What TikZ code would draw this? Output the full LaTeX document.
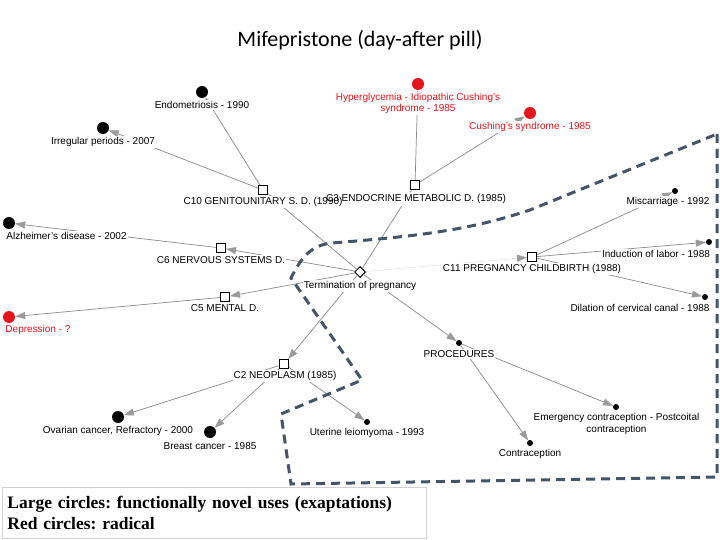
\documentclass[tikz,border=0pt]{standalone}
\usepackage{fontspec}
\setmainfont{Liberation Sans}
\newfontfamily\titlefont{Carlito}
\newfontfamily\legendfont{Liberation Serif}
\usetikzlibrary{arrows.meta,shapes.geometric}
\definecolor{edgegray}{HTML}{8A8A8A}
\definecolor{tipgray}{HTML}{9A9A9A}
\definecolor{dashblue}{HTML}{44546A}
\definecolor{dotred}{HTML}{E8141B}
\frenchspacing
\begin{document}
\begin{tikzpicture}[x=1pt,y=-1pt,
  bigdot/.style={circle,fill=black,inner sep=0pt,minimum size=12pt},
  reddot/.style={circle,fill=dotred,inner sep=0pt,minimum size=12pt},
  smalldot/.style={circle,fill=black,inner sep=0pt,minimum size=6pt},
  catbox/.style={rectangle,draw=black,fill=white,line width=1pt,inner sep=0pt,minimum size=9pt},
  hub/.style={diamond,draw=black,fill=white,line width=1pt,inner sep=0pt,minimum size=11pt},
  lbl/.style={fill=white,inner sep=1pt,font=\fontsize{10}{11}\selectfont},
  redlbl/.style={lbl,text=dotred},
  edge/.style={draw=edgegray,line width=0.7pt,-{Triangle[length=10pt,width=7pt,color=tipgray]}},
  faint/.style={draw=black!25,line width=0.6pt,densely dotted,-{Triangle[length=10pt,width=7pt,color=tipgray]}},
  region/.style={draw=dashblue,line width=3pt,dash pattern=on 9pt off 6pt}
]
\useasboundingbox (0,0) rectangle (720,540);

\node[font=\titlefont\fontsize{22}{26}\selectfont] (title) at (360,40) {Mifepristone (day-after pill)};

% shapes
\node[hub] (T) at (360,272) {};
\node[catbox] (C10) at (263,190) {};
\node[catbox] (C3) at (415,185) {};
\node[catbox] (C6) at (221,248) {};
\node[catbox] (C5) at (225,297) {};
\node[catbox] (C2) at (284,364) {};
\node[catbox] (C11) at (532,257) {};
\node[smalldot] (proc) at (459,343) {};

\node[bigdot] (endo) at (202,92) {};
\node[bigdot] (irreg) at (103,128) {};
\node[bigdot] (alz) at (9,223) {};
\node[reddot] (dep) at (9,317) {};
\node[reddot] (hyper) at (418,84) {};
\node[reddot] (cush) at (530,113) {};
\node[smalldot] (misc) at (675,191) {};
\node[smalldot] (induc) at (709,242) {};
\node[smalldot] (dil) at (705,297) {};
\node[bigdot] (ovar) at (118,417) {};
\node[bigdot] (breast) at (210,432) {};
\node[smalldot] (uter) at (367,422) {};
\node[smalldot] (emerg) at (616,407) {};
\node[smalldot] (contra) at (530,443) {};

% edges
\draw[edge] (T) -- (C10);
\draw[edge] (T) -- (C3);
\draw[edge] (T) -- (C6);
\draw[edge] (T) -- (C5);
\draw[edge] (T) -- (C2);
\draw[faint] (T) -- (C11);
\draw[edge] (T) -- (proc);
\draw[edge] (C10) -- (endo);
\draw[edge] (C10) -- (irreg);
\draw[edge] (C3) -- (hyper);
\draw[edge] (C3) -- (cush);
\draw[edge] (C6) -- (alz);
\draw[edge] (C5) -- (dep);
\draw[edge] (C2) -- (ovar);
\draw[edge] (C2) -- (breast);
\draw[edge] (C2) -- (uter);
\draw[edge] (C11) -- (misc);
\draw[edge] (C11) -- (induc);
\draw[edge] (C11) -- (dil);
\draw[edge] (proc) -- (emerg);
\draw[edge] (proc) -- (contra);

% labels
\node[lbl] (lC10) at (263,202) {C10 GENITOUNITARY S. D. (1990)};
\fill[white] (397,192) rectangle (413,206);
\node[lbl,fill=none] (lC3) at (416,199) {C3 ENDOCRINE METABOLIC D. (1985)};
\node[lbl] (lT) at (360,286) {Termination of pregnancy};
\node[lbl] (lC6) at (221,260) {C6 NERVOUS SYSTEMS D.};
\node[lbl] (lC5) at (225,308) {C5 MENTAL D.};
\node[lbl] (lC2) at (285,376) {C2 NEOPLASM (1985)};
\node[lbl] (lC11) at (532,269) {C11 PREGNANCY CHILDBIRTH (1988)};
\node[lbl] (lproc) at (459,354) {PROCEDURES};
\node[lbl] (lendo) at (202,105) {Endometriosis - 1990};
\node[lbl] (lirreg) at (103,142) {Irregular periods - 2007};
\node[lbl] (lalz) at (66.5,236) {Alzheimer's disease - 2002};
\node[redlbl] (ldep) at (38,330) {Depression - ?};
\node[redlbl,align=center,font=\fontsize{10}{11}\selectfont] (lhyper) at (418,103.5) {Hyperglycemia - Idiopathic Cushing's\\syndrome - 1985};
\node[redlbl] (lcush) at (530,127) {Cushing's syndrome - 1985};
\node[lbl] (lmisc) at (668,202) {Miscarriage - 1992};
\node[lbl] (linduc) at (656,254) {Induction of labor - 1988};
\node[lbl] (ldil) at (640,308) {Dilation of cervical canal - 1988};
\node[lbl] (lovar) at (118,431) {Ovarian cancer, Refractory - 2000};
\node[lbl] (lbreast) at (210,446) {Breast cancer - 1985};
\node[lbl] (luter) at (367,433) {Uterine leiomyoma - 1993};
\node[lbl,align=center,font=\fontsize{10}{12}\selectfont] (lemerg) at (616.5,424) {Emergency contraception - Postcoital\\contraception};
\node[lbl] (lcontra) at (530,454) {Contraception};

% dashed region
\draw[region] (717,134) -- (717,477) -- (291,484) -- (281,414) -- (362,380) -- (291,278)
  .. controls (302,256) and (312,245) .. (332,243)
  .. controls (420,236) and (470,230) .. (530,210) -- cycle;

% legend
\node[draw=black!18,line width=0.8pt,fill=white,anchor=north west,minimum width=424pt,minimum height=51pt,
  text width=414pt,align=left,inner sep=5pt,font=\legendfont\bfseries\fontsize{17.5}{21}\selectfont] (legend) at (2,487)
  {Large circles: functionally novel uses (exaptations)\\Red circles: radical};
\end{tikzpicture}
\end{document}
